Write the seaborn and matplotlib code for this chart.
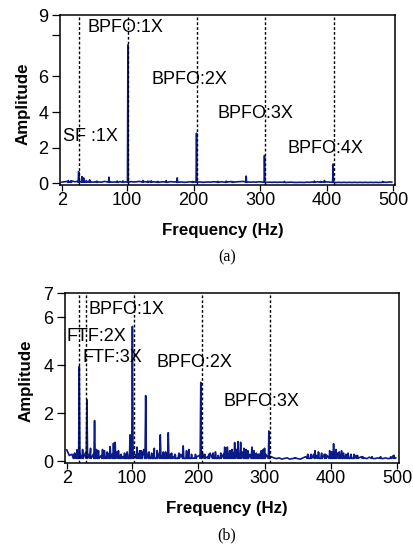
import numpy as np
import pandas as pd
import matplotlib
matplotlib.use("Agg")
import matplotlib.pyplot as plt
import seaborn as sns

# ---------------- data ----------------
xticks_vals = [2, 100, 200, 300, 400, 500]
xtick_labels = ["2", "100", "200", "300", "400", "500"]

# panel (a)
a_base_freq = list(range(2, 502, 4))
a_base_amp = [
    0.06, 0.08, 0.10, 0.07, 0.12, 0.08, 0.10, 0.09, 0.06, 0.08,
    0.09, 0.07, 0.06, 0.08, 0.07, 0.06, 0.10, 0.08, 0.07, 0.06,
    0.07, 0.06, 0.09, 0.07, 0.08, 0.10, 0.09, 0.07, 0.08, 0.10,
    0.08, 0.09, 0.07, 0.10, 0.08, 0.07, 0.09, 0.06, 0.08, 0.07,
    0.06, 0.09, 0.07, 0.08, 0.06, 0.07, 0.05, 0.06, 0.08, 0.07,
    0.08, 0.06, 0.07, 0.05, 0.06, 0.07, 0.06, 0.08, 0.07, 0.06,
    0.08, 0.06, 0.07, 0.08, 0.09, 0.07, 0.08, 0.09, 0.10, 0.08,
    0.07, 0.06, 0.07, 0.06, 0.08, 0.07, 0.06, 0.05, 0.06, 0.05,
    0.06, 0.05, 0.06, 0.05, 0.04, 0.05, 0.06, 0.05, 0.04, 0.05,
    0.05, 0.04, 0.06, 0.05, 0.07, 0.06, 0.08, 0.06, 0.07, 0.08,
    0.07, 0.06, 0.05, 0.04, 0.05, 0.04, 0.05, 0.04, 0.05, 0.04,
    0.05, 0.04, 0.05, 0.04, 0.05, 0.04, 0.05, 0.04, 0.05, 0.04,
    0.05, 0.06, 0.05, 0.07, 0.06,
]
a_peak_freq = [12, 16, 27.5, 32.5, 35, 39, 44, 55, 73, 85.5, 94, 101.5,
               124, 131.5, 136.5, 146.5, 159, 175.5, 199, 204.5, 236.5,
               249, 259, 279, 306.5, 336.5, 381.5, 391, 396.5, 409.5, 484]
a_peak_amp = [0.15, 0.14, 0.65, 0.37, 0.30, 0.15, 0.19, 0.12, 0.34, 0.12,
              0.13, 7.77, 0.15, 0.12, 0.13, 0.10, 0.15, 0.30, 0.10, 2.81,
              0.10, 0.12, 0.08, 0.40, 1.55, 0.10, 0.12, 0.10, 0.15, 1.08, 0.10]
a_marker_freq = [28, 102, 205.5, 308, 411]
a_labels = ["SF :1X", "BPFO:1X", "BPFO:2X", "BPFO:3X", "BPFO:4X"]
a_label_pos = [(0.010, 0.284), (0.0815, 0.925), (0.274, 0.618),
               (0.4696, 0.422), (0.6785, 0.212)]
a_yticks = [0, 2, 4, 6, 8.3, 9.45]
a_ytick_labels = ["0", "2", "4", "6", "", "9"]

# panel (b)
b_base_freq = list(range(2, 502, 4))
b_base_amp = [
    0.49, 0.25, 0.30, 0.35, 0.45, 0.30, 0.50, 0.35, 0.30, 0.25,
    0.30, 0.20, 0.35, 0.25, 0.40, 0.20, 0.35, 0.30, 0.45, 0.40,
    0.25, 0.20, 0.30, 0.25, 0.50, 0.35, 0.25, 0.30, 0.45, 0.50,
    0.40, 0.30, 0.35, 0.20, 0.30, 0.40, 0.25, 0.30, 0.35, 0.30,
    0.20, 0.25, 0.15, 0.30, 0.40, 0.30, 0.20, 0.25, 0.15, 0.20,
    0.25, 0.40, 0.30, 0.20, 0.35, 0.25, 0.30, 0.20, 0.35, 0.30,
    0.40, 0.30, 0.45, 0.35, 0.50, 0.30, 0.40, 0.25, 0.35, 0.30,
    0.40, 0.25, 0.30, 0.35, 0.25, 0.30, 0.40, 0.20, 0.15, 0.12,
    0.15, 0.10, 0.13, 0.15, 0.10, 0.12, 0.15, 0.12, 0.10, 0.15,
    0.20, 0.25, 0.20, 0.30, 0.25, 0.35, 0.20, 0.30, 0.25, 0.35,
    0.40, 0.30, 0.35, 0.25, 0.30, 0.20, 0.25, 0.30, 0.20, 0.25,
    0.15, 0.20, 0.15, 0.12, 0.18, 0.15, 0.12, 0.15, 0.18, 0.12,
    0.15, 0.12, 0.20, 0.25, 0.15,
]
b_peak_freq = [13, 17.5, 21, 26, 32.5, 38, 44, 47, 50, 56, 59, 63, 67.5,
               72.5, 75, 80, 84, 89, 93, 97.5, 101, 108, 112, 115, 121, 126,
               130, 134, 138, 143, 147.5, 151, 155, 160, 165, 171, 177.5,
               182.5, 186, 190, 196, 204, 210, 216, 222.5, 226, 230, 234,
               240, 244, 247.5, 251, 255, 260, 264, 269, 272, 275, 281, 284,
               287.5, 291, 295, 298, 300, 306.5, 345, 365, 370, 376, 381,
               386, 392, 398, 401, 404, 407.5, 412.5, 416, 419, 422.5, 426,
               430, 435, 440, 448, 462, 475, 490, 495]
b_peak_amp = [0.30, 0.49, 3.95, 0.49, 2.57, 0.55, 1.70, 0.50, 0.45, 0.50,
              0.45, 0.40, 0.62, 0.76, 0.80, 0.45, 0.30, 0.35, 0.40, 1.11,
              5.62, 0.60, 0.45, 0.40, 2.74, 0.40, 0.35, 0.55, 0.45, 1.11,
              0.40, 0.40, 1.20, 0.35, 0.30, 0.35, 0.65, 0.45, 0.50, 0.30,
              0.30, 3.29, 0.30, 0.30, 0.35, 0.40, 0.25, 0.30, 0.60, 0.60,
              0.45, 0.50, 0.79, 0.83, 0.80, 0.55, 0.50, 0.45, 0.60, 0.45,
              0.35, 0.30, 0.45, 0.50, 0.55, 1.27, 0.15, 0.30, 0.30, 0.45,
              0.40, 0.35, 0.30, 0.45, 0.40, 0.74, 0.50, 0.40, 0.45, 0.35,
              0.30, 0.35, 0.30, 0.30, 0.25, 0.20, 0.20, 0.20, 0.20, 0.25]
b_marker_freq = [20.6, 31, 103, 206, 308]
b_labels = ["FTF:2X", "FTF:3X", "BPFO:1X", "BPFO:2X", "BPFO:3X"]
b_label_pos = [(0.005, 0.744), (0.053, 0.621), (0.0698, 0.903),
               (0.2725, 0.594), (0.474, 0.364)]
b_yticks = [0, 2, 4, 6, 7]
b_ytick_labels = ["0", "2", "4", "6", "7"]

# ---------------- style ----------------
sns.set_style("ticks")
plt.rcParams["font.family"] = ["Liberation Sans", "DejaVu Sans"]

W, H = 413, 549
fig = plt.figure(figsize=(W / 100, H / 100), dpi=100)

LINE_COLOR = "#0b1a8a"


def spectrum_frame(bf, ba, pf, pa, half, floor):
    f = list(bf) + list(pf)
    a = list(ba) + list(pa)
    for x in pf:
        f += [x - half, x + half]
        a += [floor, floor]
    df = pd.DataFrame({"Frequency": f, "Amplitude": a})
    return df.sort_values("Frequency").reset_index(drop=True)


def panel(rect, df, markers, labels, label_pos, ylim, yticks, ylabels):
    ax = fig.add_axes(rect)
    sns.lineplot(data=df, x="Frequency", y="Amplitude", ax=ax, sort=False,
                 estimator=None, color=LINE_COLOR, linewidth=1.2)
    for m in markers:
        ax.axvline(m, color="black", lw=1.0, ls=(0, (2, 1.5)), zorder=3)
    for t, (x, y) in zip(labels, label_pos):
        ax.text(x, y, t, transform=ax.transAxes, ha="left", va="center",
                fontsize=13, color="black", family=["Liberation Sans", "DejaVu Sans"],
                zorder=4)
    ax.set_xlim(-0.5, 502.5)
    ax.set_ylim(*ylim)
    ax.set_xticks(xticks_vals)
    ax.set_xticklabels(xtick_labels)
    ax.set_yticks(yticks)
    ax.set_yticklabels(ylabels)
    ax.set_xlabel("")
    ax.set_ylabel("")
    for s in ax.spines.values():
        s.set_visible(True)
        s.set_linewidth(1.1)
        s.set_color("black")
    ax.tick_params(axis="y", direction="out", length=6.0, width=0.9, pad=2.5,
                   labelsize=13, colors="black")
    ax.tick_params(axis="x", direction="out", length=4.3, width=0.9, pad=1.0,
                   labelsize=13, colors="black")
    return ax


df_a = spectrum_frame(a_base_freq, a_base_amp, a_peak_freq, a_peak_amp, 0.7, 0.05)
df_b = spectrum_frame(b_base_freq, b_base_amp, b_peak_freq, b_peak_amp, 1.0, 0.13)

ax_a = panel([60 / W, 1 - 185 / H, 335 / W, 170 / H], df_a, a_marker_freq,
             a_labels, a_label_pos, (-0.1, 9.45), a_yticks, a_ytick_labels)
ax_b = panel([65 / W, 1 - 462.7 / H, 334 / W, 169.4 / H], df_b, b_marker_freq,
             b_labels, b_label_pos, (-0.05, 7.0), b_yticks, b_ytick_labels)

bold = dict(fontsize=12.2, fontweight="bold", ha="center", va="center",
            color="black")
fig.text(23.3 / W, 1 - 104 / H, "Amplitude", rotation=90, **bold)
fig.text(25.7 / W, 1 - 380.7 / H, "Amplitude", rotation=90, **bold)
fig.text(223 / W, 1 - 230 / H, "Frequency (Hz)", **bold)
fig.text(226.5 / W, 1 - 508.7 / H, "Frequency (Hz)", **bold)

serif = dict(fontsize=11.5, ha="center", va="center", color="black",
             family=["Liberation Serif", "DejaVu Serif"])
fig.text(227 / W, 1 - 257 / H, "(a)", **serif)
fig.text(227 / W, 1 - 535 / H, "(b)", **serif)

fig.savefig("out.png", dpi=100)
